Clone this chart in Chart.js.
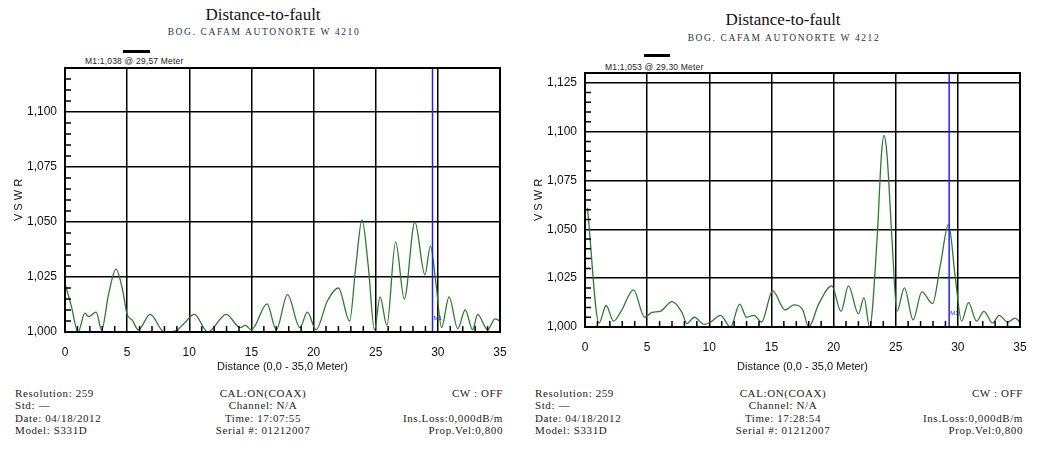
<!DOCTYPE html>
<html>
<head>
<meta charset="utf-8">
<script src="https://cdn.jsdelivr.net/npm/chart.js@4.4.1/dist/chart.umd.min.js"></script>
<style>
body { margin:0; background:#fff; width:1044px; height:452px; position:relative; overflow:hidden; }
canvas { position:absolute; top:0; }
.t { position:absolute; transform:translate(-50%,-50%); white-space:nowrap; font-family:'Liberation Serif',serif; color:#111; }
.title { font-size:17px; }
.sub { font-size:9.5px; letter-spacing:1.6px; color:#2a3340; }
.mk { position:absolute; font-family:'Liberation Sans',sans-serif; font-size:8.5px; letter-spacing:0.2px; color:#222; white-space:nowrap; }
.bar { position:absolute; height:3px; background:#000; }
.foot { position:absolute; top:387px; font-family:'Liberation Serif',serif; font-size:11px; line-height:12.3px; letter-spacing:0.6px; color:#222; white-space:pre; }
</style>
</head>
<body>

<div class="t title" style="left:263px;top:15px">Distance-to-fault</div>
<div class="t sub" style="left:264px;top:32px">BOG. CAFAM AUTONORTE W 4210</div>
<div class="bar" style="left:123px;top:50px;width:27px"></div>
<div class="mk" id="mk_left" style="left:85px;top:56px"></div>

<div class="t title" style="left:783px;top:20px">Distance-to-fault</div>
<div class="t sub" style="left:784px;top:38px">BOG. CAFAM AUTONORTE W 4212</div>
<div class="bar" style="left:644px;top:54px;width:26px"></div>
<div class="mk" id="mk_right" style="left:605px;top:62px"></div>

<canvas id="chart_left" width="522" height="380" style="left:0"></canvas>
<canvas id="chart_right" width="522" height="380" style="left:520px"></canvas>

<div class="foot" style="left:15px">Resolution: 259
Std: —
Date: 04/18/2012
Model: S331D</div>
<div class="foot" style="left:263px;transform:translateX(-50%);text-align:center">CAL:ON(COAX)
Channel: N/A
Time: 17:07:55
Serial #: 01212007</div>
<div class="foot" style="right:541px;text-align:right">CW : OFF

Ins.Loss:0,000dB/m
Prop.Vel:0,800</div>

<div class="foot" style="left:535px">Resolution: 259
Std: —
Date: 04/18/2012
Model: S331D</div>
<div class="foot" style="left:783px;transform:translateX(-50%);text-align:center">CAL:ON(COAX)
Channel: N/A
Time: 17:28:54
Serial #: 01212007</div>
<div class="foot" style="right:21px;text-align:right">CW : OFF

Ins.Loss:0,000dB/m
Prop.Vel:0,800</div>

<script>
// W 4210 trace (distance in meters, VSWR)
const distLeft = [0, 0.5, 1.05, 1.6, 1.9, 2.5, 2.95, 3.5, 4.1, 4.6, 5.0, 5.4, 5.9, 6.85, 8.0, 8.9, 9.6, 10.4, 11.5, 12.97,
    14.1, 14.5, 15.0, 16.26, 17.0, 17.9, 18.9, 19.5, 20.2, 21.1, 22.0, 22.9, 23.4, 23.9, 24.4, 24.9, 25.35, 25.9, 26.6, 27.3,
    28.15, 28.96, 29.4, 29.85, 30.3, 30.9, 31.6, 32.2, 32.8, 33.2, 34.0, 34.6, 35];
const vswrLeft = [1.022, 1.012, 1.000, 1.0086, 1.007, 1.009, 1.001, 1.017, 1.0286, 1.020, 1.008, 1.0055, 1.001, 1.008, 1.000, 1.0005, 1.004, 1.008, 1.000, 1.008,
    1.002, 1.003, 1.001, 1.0128, 1.001, 1.017, 1.002, 1.009, 1.001, 1.014, 1.020, 1.005, 1.030, 1.051, 1.030, 1.001, 1.016, 1.003, 1.041, 1.015,
    1.050, 1.026, 1.039, 1.022, 1.002, 1.016, 1.0015, 1.010, 1.001, 1.008, 1.001, 1.006, 1.005];

// W 4212 trace
const distRight = [0.2, 1.13, 1.7, 2.3, 2.9, 3.9, 4.8, 5.4, 6.05, 7.0, 7.8, 8.2, 8.8, 9.6, 10.1, 10.9, 11.7, 12.45, 13.0, 13.6,
    14.2, 15.1, 16.1, 16.8, 17.5, 18.0, 18.8, 19.85, 20.6, 21.2, 22.0, 22.45, 22.9, 23.5, 23.85, 24.06, 24.3, 24.7, 25.1, 25.7,
    26.4, 27.1, 27.96, 28.6, 29.25, 29.8, 30.3, 30.86, 31.5, 32.1, 32.8, 33.33, 34.0, 34.6, 35];
const vswrRight = [1.061, 1.002, 1.011, 1.003, 1.008, 1.019, 1.005, 1.0075, 1.008, 1.013, 1.0075, 1.0017, 1.005, 1.0013, 1.0025, 1.006, 1.000, 1.0117, 1.005, 1.006,
    1.0025, 1.0185, 1.0087, 1.0113, 1.009, 1.000, 1.0117, 1.021, 1.008, 1.021, 1.0067, 1.015, 1.000, 1.045, 1.088, 1.098, 1.088, 1.045, 1.008, 1.020,
    1.0037, 1.018, 1.012, 1.032, 1.0525, 1.025, 1.003, 1.0125, 1.003, 1.008, 1.002, 1.006, 1.0025, 1.0045, 1.0025];

// markers
const markerLeft = { dist: 29.57, vswr: 1.038 };
const markerRight = { dist: 29.30, vswr: 1.053 };

// axis ranges
const xMax = 35;
const yMaxLeft = 1.12;
const yMaxRight = 1.13;

const sans = "'Liberation Sans', sans-serif";

function fmt(v, d){
    return v.toFixed(d).replace('.', ',');
}

document.getElementById('mk_left').textContent = "M1:" + fmt(markerLeft.vswr, 3) + " @ " + fmt(markerLeft.dist, 2) + " Meter";
document.getElementById('mk_right').textContent = "M1:" + fmt(markerRight.vswr, 3) + " @ " + fmt(markerRight.dist, 2) + " Meter";

// minor ticks, frame and the small M1 tag
const dtfDecor = {
    id: 'dtfDecor',
    afterDatasetsDraw(chart, args, opts){
        const ctx = chart.ctx;
        const a = chart.chartArea;
        const xs = chart.scales.x, ys = chart.scales.y;
        ctx.save();
        ctx.strokeStyle = '#000';
        ctx.lineWidth = 1.5;
        ctx.beginPath();
        for(let i = 1; i < xMax; i++){
            if(i % 5 === 0) continue;
            const px = xs.getPixelForValue(i);
            ctx.moveTo(px, a.bottom);
            ctx.lineTo(px, a.bottom - 6);
        }
        for(let k = 1; ; k++){
            const v = 1 + k * 0.005;
            if(v >= ys.max - 0.0001) break;
            if(k % 5 === 0) continue;
            const py = ys.getPixelForValue(v);
            ctx.moveTo(a.left, py);
            ctx.lineTo(a.left + 6, py);
        }
        ctx.stroke();
        ctx.lineWidth = 2;
        ctx.strokeRect(a.left, a.top, a.right - a.left, a.bottom - a.top);
        ctx.fillStyle = '#2020ff';
        ctx.font = "6px 'Liberation Sans'";
        ctx.fillText("M1", xs.getPixelForValue(opts.marker) + 1, a.bottom - 12);
        ctx.restore();
    }
};

function buildChart(id, dist, vswr, marker, yMax, padTop){
    const ctx = document.getElementById(id);
    new Chart(ctx, {
        type: 'line',
        data: {
            datasets: [{
                data: dist.map((d, i) => ({ x: d, y: vswr[i] })),
                borderColor: '#2f7a2f',
                borderWidth: 1.3,
                pointRadius: 0,
                cubicInterpolationMode: 'monotone',
                order: 2
            }, {
                data: [{ x: marker.dist, y: 1 }, { x: marker.dist, y: yMax }],
                borderColor: '#2020ff',
                borderWidth: 1.5,
                pointRadius: 0,
                order: 1
            }]
        },
        options: {
            responsive: false,
            animation: false,
            devicePixelRatio: 1,
            layout: { padding: { top: padTop, right: 22, left: 0, bottom: 0 } },
            plugins: {
                legend: { display: false },
                tooltip: { enabled: false },
                dtfDecor: { marker: marker.dist }
            },
            scales: {
                x: {
                    type: 'linear',
                    min: 0,
                    max: xMax,
                    afterFit: function(scale){ scale.height = 380 - 332 + (padTop - 68); },
                    ticks: { stepSize: 5, padding: 13, color: '#111', font: { family: sans, size: 12 } },
                    grid: { color: '#000', lineWidth: 1.5, drawTicks: false },
                    border: { color: '#000', width: 2 },
                    title: { display: true, text: 'Distance (0,0 - 35,0 Meter)', color: '#111',
                        font: { family: sans, size: 11 }, padding: { top: 0, bottom: 6 } }
                },
                y: {
                    min: 1,
                    max: yMax,
                    afterFit: function(scale){ scale.width = 65; },
                    ticks: {
                        stepSize: 0.025,
                        includeBounds: false,
                        padding: 8,
                        color: '#111',
                        font: { family: sans, size: 12 },
                        callback: function(v){ return fmt(v, 3); }
                    },
                    grid: { color: '#000', lineWidth: 1.5, drawTicks: false },
                    border: { color: '#000', width: 2 },
                    title: { display: true, text: 'V S W R', color: '#111',
                        font: { family: sans, size: 11 }, padding: { top: 12, bottom: 0 } }
                }
            }
        },
        plugins: [dtfDecor]
    });
}

buildChart('chart_left', distLeft, vswrLeft, markerLeft, yMaxLeft, 68);
buildChart('chart_right', distRight, vswrRight, markerRight, yMaxRight, 73);
</script>
</body>
</html>
